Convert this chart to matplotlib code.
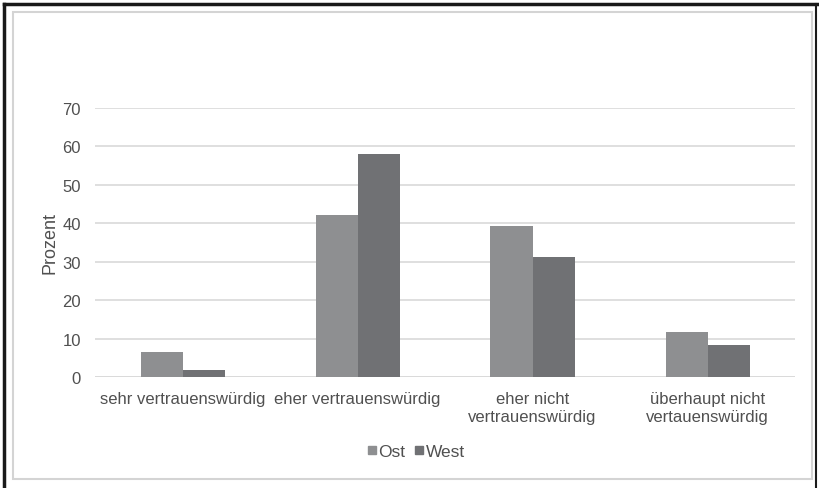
import matplotlib
matplotlib.use("Agg")
import matplotlib.pyplot as plt
import numpy as np
from matplotlib.lines import Line2D
from matplotlib.patches import Rectangle

plt.rcParams['font.family'] = ['Liberation Sans', 'DejaVu Sans']

categories = ["sehr vertrauenswürdig", "eher vertrauenswürdig",
              "eher nicht\nvertrauenswürdig", "überhaupt nicht\nvertauenswürdig"]
series_names = ["Ost", "West"]
ost = [6.5, 42.2, 39.3, 11.7]
west = [1.8, 58.0, 31.2, 8.3]
yticks = [0, 10, 20, 30, 40, 50, 60, 70]

W, H = 819, 489
fig = plt.figure(figsize=(W / 100, H / 100), dpi=100)
fig.patch.set_facecolor("white")

# plot area
x0, x1 = 95, 795
y_top, y_bot = 109, 378
ax = fig.add_axes([x0 / W, 1 - y_bot / H, (x1 - x0) / W, (y_bot - y_top) / H])

text_col = "#505050"
ost_col = "#8e8f91"
west_col = "#707174"
grid_col = "#d9d9d9"

x = np.arange(len(categories))
bw = 0.24
ax.bar(x - bw / 2, ost, width=bw, color=ost_col, label=series_names[0], zorder=3)
ax.bar(x + bw / 2, west, width=bw, color=west_col, label=series_names[1], zorder=3)

ax.set_xlim(-0.5, len(categories) - 0.5)
ax.set_ylim(0, 70)
ax.set_yticks(yticks)
ax.yaxis.grid(True, color=grid_col, linewidth=1.2, zorder=0)
ax.set_axisbelow(True)
for s in ax.spines.values():
    s.set_visible(False)
ax.axhline(0, color=grid_col, linewidth=1.2, zorder=1)

ax.tick_params(axis="both", length=0, colors=text_col)
ax.tick_params(axis="y", labelsize=12, pad=10)
ax.set_xticks(x)
ax.set_xticklabels(categories, fontsize=12, color=text_col, linespacing=1.25)
ax.tick_params(axis="x", pad=10)
ax.set_ylabel("Prozent", fontsize=13, color=text_col, labelpad=3)

# legend below the plot
handles = [Line2D([0], [0], marker="s", linestyle="none", markersize=5.5,
                  markerfacecolor=c, markeredgecolor=c)
           for c in (ost_col, west_col)]
leg = fig.legend(handles, series_names, loc="center",
                 bbox_to_anchor=(416 / W, 1 - 452 / H), ncol=2, frameon=False,
                 fontsize=12.5, handlelength=0.5, handletextpad=0.15,
                 columnspacing=0.5, borderpad=0)
for t in leg.get_texts():
    t.set_color(text_col)

# inner light frame of the chart area
fig.add_artist(Rectangle((13 / W, 1 - 480 / H), (812 - 13) / W, (480 - 13) / H,
                         transform=fig.transFigure, fill=False,
                         edgecolor="#d4d4d4", linewidth=1.5))
# outer dark frame on top and sides
fig.add_artist(Line2D([4 / W, 1], [1 - 5 / H, 1 - 5 / H], transform=fig.transFigure,
                      color="#1a1a1a", linewidth=2.5))
fig.add_artist(Line2D([4 / W, 4 / W], [0, 1 - 5 / H], transform=fig.transFigure,
                      color="#1a1a1a", linewidth=2.5))
fig.add_artist(Line2D([816 / W, 816 / W], [0, 1 - 5 / H], transform=fig.transFigure,
                      color="#1a1a1a", linewidth=1.5))

fig.savefig("out.png", dpi=100)
